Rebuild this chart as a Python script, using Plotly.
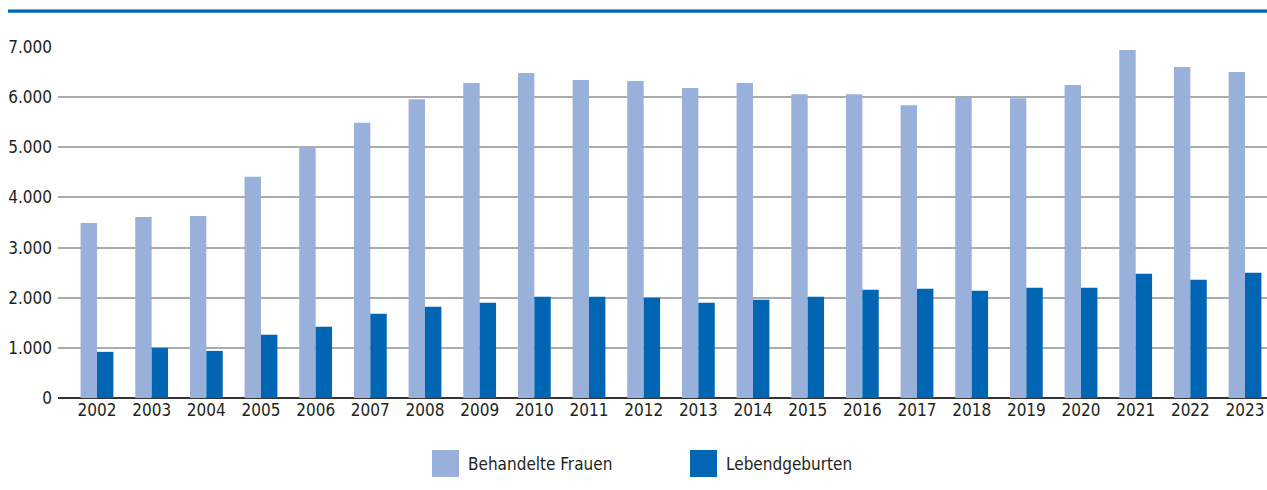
import plotly.graph_objects as go

years = list(range(2002, 2024))
behandelte_frauen = [3490, 3610, 3630, 4410, 4990, 5490, 5960, 6280, 6480, 6340, 6320, 6180,
                     6280, 6060, 6060, 5840, 6000, 5980, 6240, 6940, 6600, 6500]
lebendgeburten = [920, 1000, 940, 1260, 1420, 1680, 1820, 1900, 2020, 2020, 2000, 1900,
                  1960, 2020, 2160, 2180, 2140, 2200, 2200, 2480, 2360, 2500]
series_names = ["Behandelte Frauen", "Lebendgeburten"]

LIGHT = "#98B0DA"
DARK = "#0066B3"
TXT = "#231F20"
FONT = "Liberation Sans Narrow, DejaVu Sans Condensed, Arial Narrow, sans-serif"
FS = 17

W, H = 1267, 490
L, R, T, B = 58, 1267, 47, 398  # plot area in px


def px_x(x):
    return (x - L) / (R - L)


def px_y(y):
    return (B - y) / (B - T)


fig = go.Figure()
fig.add_trace(go.Bar(x=years, y=behandelte_frauen, name=series_names[0],
                     marker=dict(color=LIGHT, line=dict(width=0)), showlegend=False))
fig.add_trace(go.Bar(x=years, y=lebendgeburten, name=series_names[1],
                     marker=dict(color=DARK, line=dict(width=0)), showlegend=False))

shapes = [
    # top decorative rule
    dict(type="line", xref="paper", yref="paper", x0=px_x(8), x1=px_x(1267),
         y0=px_y(9.5), y1=px_y(9.5), line=dict(color="#9DC3E6", width=1)),
    dict(type="line", xref="paper", yref="paper", x0=px_x(8), x1=px_x(1267),
         y0=px_y(11.3), y1=px_y(11.3), line=dict(color=DARK, width=3)),
    # legend swatches
    dict(type="rect", xref="paper", yref="paper", x0=px_x(432), x1=px_x(459),
         y0=px_y(477), y1=px_y(450), fillcolor=LIGHT, line=dict(width=0)),
    dict(type="rect", xref="paper", yref="paper", x0=px_x(690), x1=px_x(717),
         y0=px_y(477), y1=px_y(450), fillcolor=DARK, line=dict(width=0)),
]
annotations = [
    dict(text=series_names[0], xref="paper", yref="paper", x=px_x(466), y=px_y(463.5),
         xanchor="left", yanchor="middle", showarrow=False,
         font=dict(family=FONT, size=FS, color=TXT)),
    dict(text=series_names[1], xref="paper", yref="paper", x=px_x(724), y=px_y(463.5),
         xanchor="left", yanchor="middle", showarrow=False,
         font=dict(family=FONT, size=FS, color=TXT)),
]

fig.update_layout(
    width=W, height=H,
    margin=dict(l=L, r=W - R, t=T, b=H - B),
    paper_bgcolor="white", plot_bgcolor="white",
    barmode="group", bargap=0.4, bargroupgap=0,
    separators=",.",
    font=dict(family=FONT, size=FS, color=TXT),
    shapes=shapes, annotations=annotations,
    showlegend=False,
)
fig.update_xaxes(range=[2001.287, 2023.402], tickvals=years, tickformat="d",
                 showgrid=False, zeroline=False, showline=False, ticks="",
                 tickfont=dict(family=FONT, size=FS, color=TXT))
fig.update_yaxes(range=[0, 7000], tickvals=[0, 1000, 2000, 3000, 4000, 5000, 6000, 7000],
                 tickformat=",d", showgrid=True, gridcolor="#ABABAB", gridwidth=1.5,
                 zeroline=True, zerolinecolor="#333333", zerolinewidth=1.5,
                 showline=False, ticks="", ticklabelstandoff=5,
                 tickfont=dict(family=FONT, size=FS, color=TXT))

fig.write_html(
    "out.html",
    config={"displayModeBar": False},
    post_script="document.body.style.margin='0';document.body.style.overflow='hidden';",
)
